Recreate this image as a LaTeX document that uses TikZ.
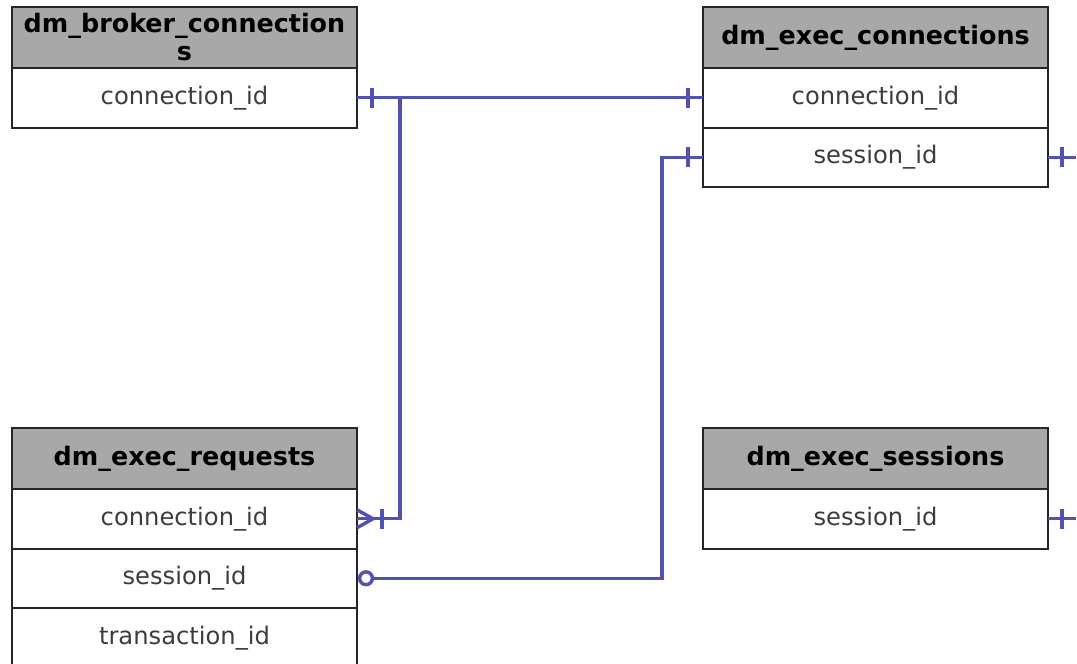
\documentclass[tikz,border=0pt]{standalone}
\usepackage{fontspec}
\setmainfont{DejaVu Sans}
\usetikzlibrary{calc,positioning}
\definecolor{erblue}{RGB}{82,82,178}
\definecolor{hdrgray}{RGB}{168,168,168}
\definecolor{txtgray}{RGB}{60,60,60}
\tikzset{
  tblhead/.style={draw=black!85, line width=1pt, fill=hdrgray, minimum width=172.5pt,
    minimum height=30.5pt, inner sep=0pt, outer sep=0pt, align=center, anchor=north west,
    font=\bfseries\fontsize{12.7}{14}\selectfont},
  tblrow/.style={draw=black!85, line width=1pt, fill=white, minimum width=172.5pt,
    minimum height=29.75pt, inner sep=0pt, outer sep=0pt, text=txtgray,
    font=\fontsize{12.1}{14}\selectfont},
  erline/.style={draw=erblue, line width=1.7pt},
}
\begin{document}
\begin{tikzpicture}[x=0.5pt,y=-0.5pt]
\useasboundingbox (0,0) rectangle (1077,664);

% Tables
\node[tblhead] (bhead) at (12,7) {dm\_broker\_connection\\s};
\node[tblrow, below=0pt of bhead] (bcon) {connection\_id};

\node[tblhead] (echead) at (703,7) {dm\_exec\_connections};
\node[tblrow, below=0pt of echead] (ecconn) {connection\_id};
\node[tblrow, below=0pt of ecconn] (ecses) {session\_id};

\node[tblhead] (rqhead) at (12,428) {dm\_exec\_requests};
\node[tblrow, below=0pt of rqhead] (rqcon) {connection\_id};
\node[tblrow, below=0pt of rqcon] (rqses) {session\_id};
\node[tblrow, below=0pt of rqses] (rqtx) {transaction\_id};

\node[tblhead] (sshead) at (703,428) {dm\_exec\_sessions};
\node[tblrow, below=0pt of sshead] (ssses) {session\_id};

% broker -> exec connections
\draw[erline] (bcon.east) -- (ecconn.west);
\draw[erline] ($(bcon.east)+(15,-10)$) -- ++(0,20);
\draw[erline] ($(ecconn.west)+(-15,-10)$) -- ++(0,20);

% broker -> requests
\coordinate (bjoin) at ($(bcon.east)+(43,0)$);
\draw[erline] (bjoin) |- (rqcon.east);
\draw[erline] ($(rqcon.east)+(0,-9)$) -- ($(rqcon.east)+(16,0)$) -- ($(rqcon.east)+(0,9)$);
\draw[erline] ($(rqcon.east)+(25,-10)$) -- ++(0,20);

% requests -> exec connections
\draw[erline] ($(rqses.east)+(9,0)$) circle[radius=3.2pt];
\draw[erline] ($(rqses.east)+(15.5,0)$) -| ($(ecses.west)+(-41,0)$) -- (ecses.west);
\draw[erline] ($(ecses.west)+(-15,-10)$) -- ++(0,20);

% stubs to the right
\coordinate (ecout) at ($(ecses.east)+(28,0)$);
\draw[erline] (ecses.east) -- (ecout);
\draw[erline] ($(ecses.east)+(14,-10)$) -- ++(0,20);
\coordinate (ssout) at ($(ssses.east)+(28,0)$);
\draw[erline] (ssses.east) -- (ssout);
\draw[erline] ($(ssses.east)+(14,-10)$) -- ++(0,20);
\end{tikzpicture}
\end{document}
